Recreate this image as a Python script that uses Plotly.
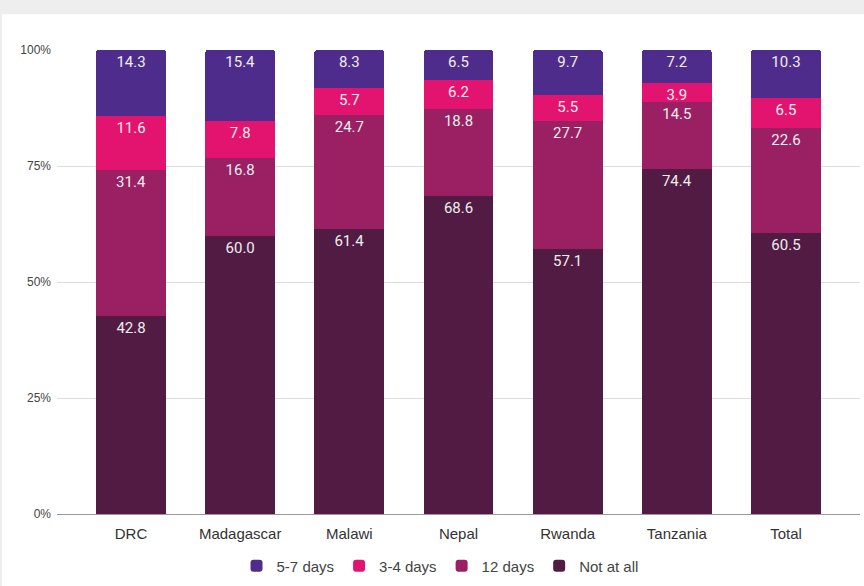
import plotly.graph_objects as go

categories = ["DRC", "Madagascar", "Malawi", "Nepal", "Rwanda", "Tanzania", "Total"]
days_5_7 = [14.3, 15.4, 8.3, 6.5, 9.7, 7.2, 10.3]
days_3_4 = [11.6, 7.8, 5.7, 6.2, 5.5, 3.9, 6.5]
days_12 = [31.4, 16.8, 24.7, 18.8, 27.7, 14.5, 22.6]
not_at_all = [42.8, 60.0, 61.4, 68.6, 57.1, 74.4, 60.5]
y_ticks = [0, 25, 50, 75, 100]
y_tick_labels = ["0%", "25%", "50%", "75%", "100%"]

series = [
    ("Not at all", not_at_all, "#521b43"),
    ("12 days", days_12, "#9b1f63"),
    ("3-4 days", days_3_4, "#e2146f"),
    ("5-7 days", days_5_7, "#4e2c8b"),
]

fig = go.Figure()
for name, vals, color in series:
    fig.add_trace(go.Bar(
        x=categories, y=vals, name=name,
        marker=dict(color=color, line=dict(width=0)),
        text=[f"{v:.1f}" for v in vals],
        texttemplate="%{text}",
        textposition="inside", insidetextanchor="end", textangle=0,
        textfont=dict(family="Roboto", size=15, color="#eeeeee"),
        width=0.64,
        hoverinfo="skip",
    ))

fig.update_layout(
    width=864, height=586,
    barmode="stack", barnorm="percent", barcornerradius=3,
    paper_bgcolor="#eeeeee", plot_bgcolor="white",
    margin=dict(l=57, r=4, t=50, b=66),
    font=dict(family="Liberation Sans, Arial", color="#444444"),
    uniformtext=dict(minsize=15, mode="show"),
    showlegend=True,
    legend=dict(orientation="h", x=0.477, xanchor="center", y=-0.112, yanchor="middle",
                font=dict(size=15, color="#444444"), traceorder="reversed",
                itemwidth=30, bgcolor="rgba(0,0,0,0)"),
    shapes=[dict(type="rect", xref="paper", yref="paper", x0=-0.0685, x1=1.3,
                 y0=-0.5, y1=1.077, fillcolor="white", line=dict(width=0), layer="below")],
    xaxis=dict(range=[-0.678, 6.678], showgrid=False, showline=True, linecolor="#999999",
               linewidth=1, ticks="", tickfont=dict(size=15, color="#333333"),
               ticklabelstandoff=6),
    yaxis=dict(range=[0, 100], tickvals=y_ticks, ticktext=y_tick_labels,
               showgrid=True, gridcolor="#dddddd", zeroline=False, ticks="",
               tickfont=dict(size=12, color="#444444"), ticklabelstandoff=5),
)

fig.write_html(
    "out.html", config={"displayModeBar": False},
    post_script=(
        "document.body.style.margin='0';"
        "document.body.style.background='white';"
        "document.body.style.overflow='hidden';"
        "document.documentElement.style.overflow='hidden';"
    ),
)
